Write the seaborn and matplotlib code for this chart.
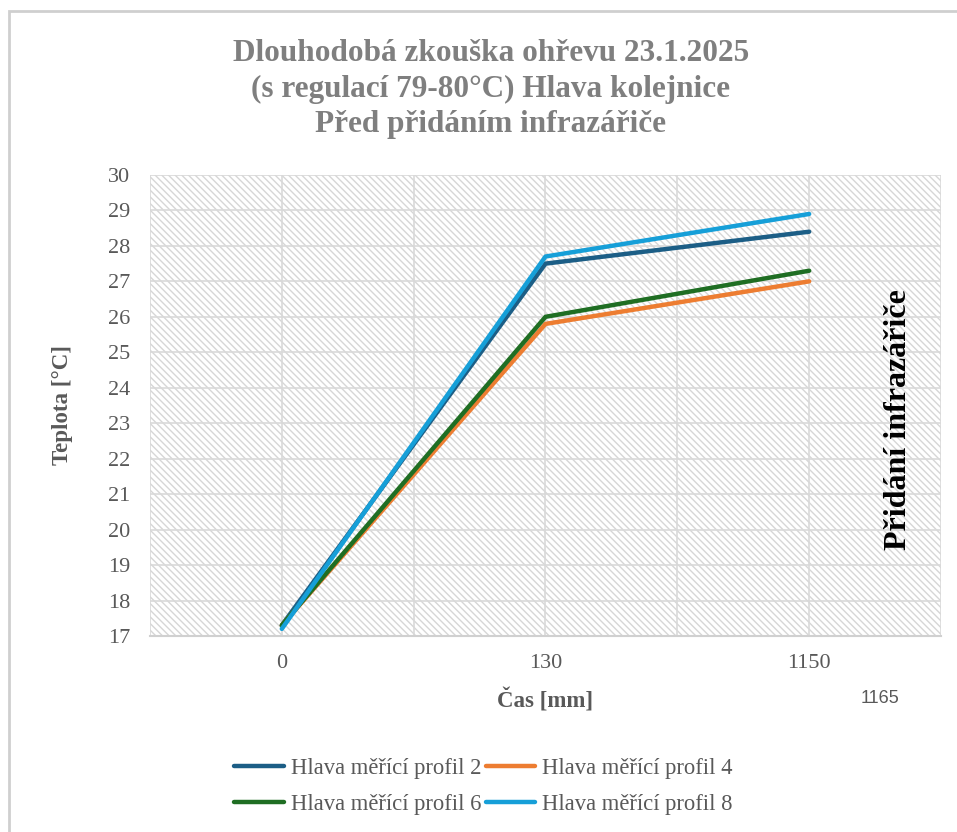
import matplotlib.pyplot as plt
import seaborn as sns
import pandas as pd
from matplotlib.patches import Rectangle

# hodnoty
cas = ['0', '130', '1150']
profil_2 = [17.3, 27.5, 28.4]
profil_4 = [17.3, 25.8, 27.0]
profil_6 = [17.3, 26.0, 27.3]
profil_8 = [17.2, 27.7, 28.9]

nazvy = ['Hlava měřící profil 2', 'Hlava měřící profil 4',
         'Hlava měřící profil 6', 'Hlava měřící profil 8']
barvy = ['#1c5e86', '#ed7d31', '#1f6e23', '#169fd8']

rows = []
for nazev, hodnoty in zip(nazvy, [profil_2, profil_4, profil_6, profil_8]):
    for i, v in enumerate(hodnoty):
        rows.append({'pozice': i, 'teplota': v, 'serie': nazev})
df = pd.DataFrame(rows)

sns.set_style('white')
plt.rcParams['font.family'] = ['Liberation Serif', 'DejaVu Serif']
plt.rcParams['hatch.color'] = '#d6d6d6'
plt.rcParams['hatch.linewidth'] = 1.0

seda = '#595959'
fig = plt.figure(figsize=(9.57, 8.32), dpi=100)
ax = fig.add_axes([0.1567, 0.2356, 0.8266, 0.5541])

# sedy ramecek kolem grafu
fig.patches.append(Rectangle((0.0094, -0.05), 1.2, 1.037, transform=fig.transFigure,
                             fill=False, edgecolor='#cfcfcf', linewidth=2))

# srafovane pozadi
ax.add_patch(Rectangle((0, 0), 1, 1, transform=ax.transAxes, facecolor='white',
                       edgecolor='#d6d6d6', hatch='\\\\\\\\\\', linewidth=0, zorder=0))

sns.lineplot(data=df, x='pozice', y='teplota', hue='serie', palette=barvy,
             linewidth=3.2, ax=ax, legend=False, zorder=3)

ax.set_xlim(-0.5, 2.5)
ax.set_ylim(17, 30)
ax.set_yticks(range(17, 31))
ax.set_xticks(range(len(cas)))
ax.set_xticklabels(cas)
ax.set_xticks([-0.5, 0.5, 1.5, 2.5], minor=True)
ax.grid(True, which='both', color='#d9d9d9', linewidth=1.2, zorder=1)
ax.set_axisbelow(True)
for s in ['top', 'right', 'left']:
    ax.spines[s].set_visible(False)
ax.spines['bottom'].set_color('#d0d0d0')
ax.spines['bottom'].set_linewidth(1.5)
ax.tick_params(axis='both', which='both', length=0, labelsize=16, labelcolor=seda)
ax.tick_params(axis='x', pad=13)
ax.tick_params(axis='y', pad=14)

ax.set_xlabel('Čas [mm]', fontsize=16.5, fontweight='bold', color=seda)
ax.set_ylabel('Teplota [°C]', fontsize=16.5, fontweight='bold', color=seda)
ax.xaxis.set_label_coords(0.5, -0.113)
ax.yaxis.set_label_coords(-0.097, 0.5)

fig.text(0.513, 0.893, 'Dlouhodobá zkouška ohřevu 23.1.2025\n(s regulací 79-80°C) Hlava kolejnice\nPřed přidáním infrazářiče',
         ha='center', va='center', fontsize=22.5, fontweight='bold', color='#7f7f7f', linespacing=1.3)

ax.text(0.9457, 0.4685, 'Přidání infrazářiče', transform=ax.transAxes, rotation=90,
        ha='center', va='center', fontsize=23, fontweight='bold', color='black', zorder=5)

fig.text(0.9195, 0.161, '1165', ha='center', va='center', fontsize=13, color=seda,
         family=['Liberation Sans', 'DejaVu Sans'])

# legenda po radcich: 2, 4 / 6, 8
poradi = [0, 2, 1, 3]
handles = [plt.Line2D([], [], color=barvy[i], linewidth=3.2, solid_capstyle='round') for i in poradi]
leg = fig.legend(handles, [nazvy[i] for i in poradi], loc='center', bbox_to_anchor=(0.505, 0.055),
                 ncol=2, frameon=False, fontsize=16.3, handlelength=2.2, handletextpad=0.3,
                 columnspacing=0.2, labelspacing=0.65)
for t in leg.get_texts():
    t.set_color(seda)

plt.savefig('out.png', dpi=100)
